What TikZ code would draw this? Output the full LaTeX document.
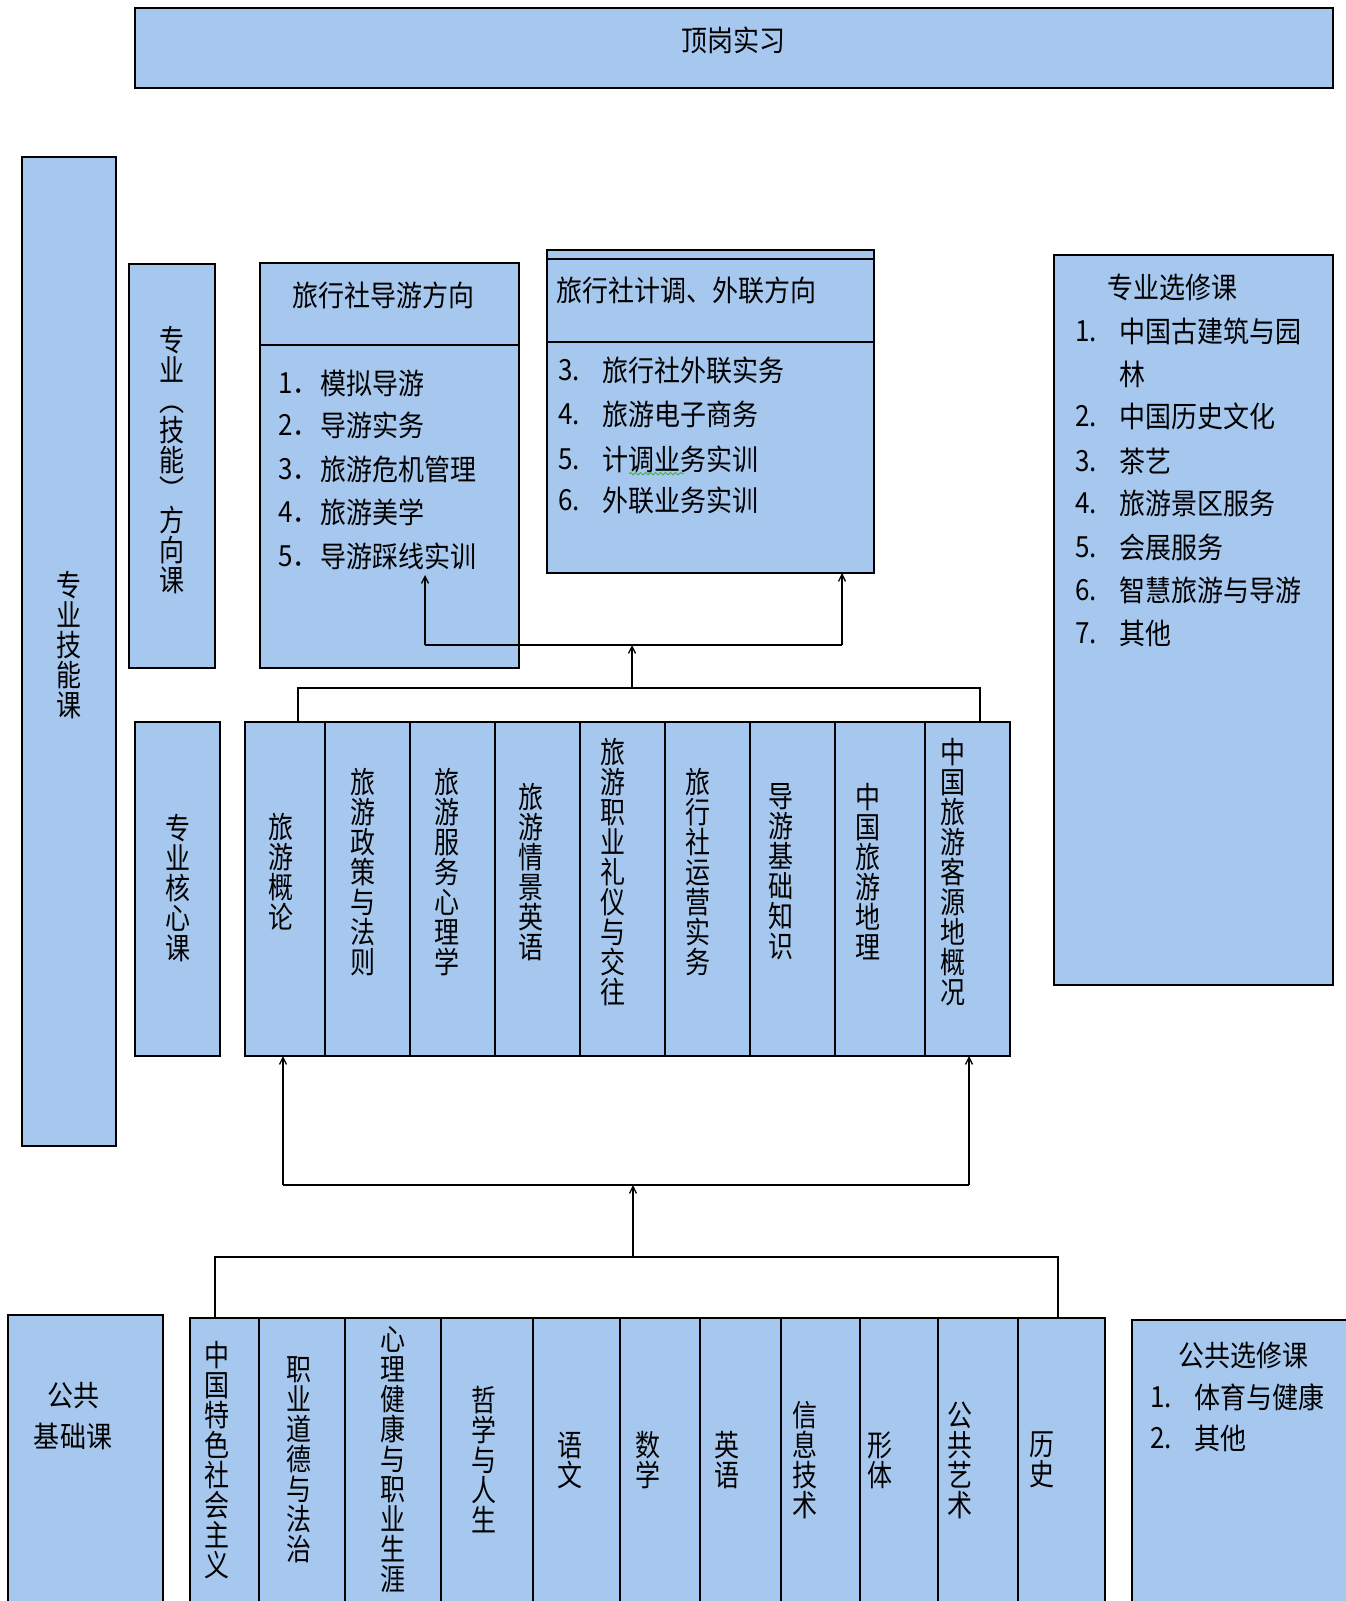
\documentclass[tikz,border=0pt]{standalone}
\usepackage{fontspec}
\newfontfamily\cjk{Noto Sans CJK SC}
\usetikzlibrary{arrows.meta,decorations.pathmorphing}
\definecolor{boxblue}{RGB}{167,200,238}
\definecolor{squig}{RGB}{60,170,60}
\newcommand\mybox[6][]{\node[box,#1,minimum width={#4-#2},minimum height={#5-#3}] (#6) at (#2,#3) {};}
\newcommand\hs[1]{\scalebox{1}[1.12]{#1}}
\newcommand\vs[1]{\scalebox{1}[1.2]{\parbox{40pt}{\centering\cjk\fontsize{25}{25}\selectfont\lineskiplimit=-20pt #1\par}}}
\begin{document}
\begin{tikzpicture}[x=1pt,y=-1pt,
  box/.style={draw=black,line width=1.4pt,fill=boxblue,inner sep=0pt,outer sep=0pt,anchor=north west},
  vt/.style={font=\cjk\fontsize{25}{25}\selectfont,inner sep=0pt},
  ht/.style={font=\cjk\fontsize{26}{32}\selectfont,inner sep=0pt},
  hl/.style={ht,anchor=west},
  conn/.style={line width=1.3pt,draw=black},
  arr/.style={conn,-{Straight Barb[length=7pt,width=7pt]}}]
\useasboundingbox (0,0) rectangle (1346,1601);
\fill[white] (0,0) rectangle (1346,1601);

% top
\mybox{135}{8}{1333}{88}{top}
\node[ht] (ttop) at (733,40) {\hs{顶岗实习}};

% left tall
\mybox{22}{157}{116}{1146}{skill}
\node[vt] (tskill) at (69,645) {\vs{专\\业\\技\\能\\课}};

% direction label
\mybox{129}{264}{215}{668}{dirlab}
\node[vt] (tdirlab) at (172,460) {\vs{专\\业\\︵\\技\\能\\︶\\方\\向\\课}};

% direction 1
\mybox{260}{263}{519}{668}{dirA}
\draw[conn,line width=1.4pt] (dirA.west |- 0,345) coordinate (dAl) -- (dirA.east |- dAl);
\node[ht] (tdirA) at (383,295) {\hs{旅行社导游方向}};
\foreach \n/\t/\y in {1/模拟导游/383,2/导游实务/425,3/旅游危机管理/469,4/旅游美学/512,5/导游踩线实训/556}{
  \node[hl] (nA\n) at (278,\y) {\hs{\n．}};
  \node[hl] (iA\n) at (320,\y) {\hs{\t}};
}

% direction 2
\mybox{547}{250}{874}{573}{dirB}
\draw[conn,line width=1.4pt] (dirB.west |- 0,259) coordinate (dBa) -- (dirB.east |- dBa);
\draw[conn,line width=1.4pt] (dirB.west |- 0,342) coordinate (dBb) -- (dirB.east |- dBb);
\node[hl] (tdirB) at (556,290) {\hs{旅行社计调、外联方向}};
\foreach \n/\t/\y in {3/旅行社外联实务/370,4/旅游电子商务/414,5/计调业务实训/459,6/外联业务实训/500}{
  \node[hl] (nB\n) at (558,\y) {\hs{\n.}};
  \node[hl] (iB\n) at (602,\y) {\hs{\t}};
}
\draw[squig,line width=0.8pt,decorate,decoration={snake,amplitude=1.2pt,segment length=5pt}]
  (iB5.south west) ++(27,1) coordinate (sq1) -- ++(55,0);

% elective (major)
\mybox{1054}{255}{1333}{985}{elecM}
\node[ht] (telecM) at (1172,287) {\hs{专业选修课}};
\foreach \n/\t/\y in {1/中国古建筑与园/331,2/中国历史文化/416,3/茶艺/461,4/旅游景区服务/503,5/会展服务/547,6/智慧旅游与导游/590,7/其他/633}{
  \node[hl] (nM\n) at (1075,\y) {\hs{\n.}};
  \node[hl] (iM\n) at (1119,\y) {\hs{\t}};
}
\node[hl] (iM1b) at (1119,374) {\hs{林}};

% core label
\mybox{135}{722}{220}{1056}{corelab}
\node[vt] (tcorelab) at (178,888) {\vs{专\\业\\核\\心\\课}};

% core courses
\foreach \i/\a/\b/\tx/\t in {
 1/245/325/281/旅\\游\\概\\论,
 2/325/410/363/旅\\游\\政\\策\\与\\法\\则,
 3/410/495/447/旅\\游\\服\\务\\心\\理\\学,
 4/495/580/531/旅\\游\\情\\景\\英\\语,
 5/580/665/613/旅\\游\\职\\业\\礼\\仪\\与\\交\\往,
 6/665/750/698/旅\\行\\社\\运\\营\\实\\务,
 7/750/835/781/导\\游\\基\\础\\知\\识,
 8/835/925/868/中\\国\\旅\\游\\地\\理,
 9/925/1010/953/中\\国\\旅\\游\\客\\源\\地\\概\\况}{
  \mybox{\a}{722}{\b}{1056}{c\i}
  \node[vt] (tc\i) at (\tx,872) {\vs{\t}};
}

% public label
\mybox{8}{1315}{163}{1610}{publab}
\node[ht] (tpub1) at (73,1396) {\hs{公共}};
\node[ht] (tpub2) at (73,1436) {\hs{基础课}};

% public courses
\foreach \i/\a/\b/\tx/\t in {
 1/190/259/217/中\\国\\特\\色\\社\\会\\主\\义,
 2/259/345/299/职\\业\\道\\德\\与\\法\\治,
 3/345/441/393/心\\理\\健\\康\\与\\职\\业\\生\\涯,
 4/441/533/484/哲\\学\\与\\人\\生,
 5/533/620/570/语\\文,
 6/620/700/648/数\\学,
 7/700/781/727/英\\语,
 8/781/860/805/信\\息\\技\\术,
 9/860/938/880/形\\体,
 10/938/1018/960/公\\共\\艺\\术,
 11/1018/1105/1042/历\\史}{
  \mybox{\a}{1318}{\b}{1610}{p\i}
  \node[vt] (tp\i) at (\tx,1460) {\vs{\t}};
}

% public elective
\mybox{1132}{1320}{1352}{1610}{elecP}
\node[ht] (telecP) at (1243,1355) {\hs{公共选修课}};
\node[hl] (nP1) at (1150,1397) {\hs{1.}};
\node[hl] (iP1) at (1194,1397) {\hs{体育与健康}};
\node[hl] (nP2) at (1150,1438) {\hs{2.}};
\node[hl] (iP2) at (1194,1438) {\hs{其他}};

% connectors: public -> core
\coordinate (pjL) at (215,1257);
\coordinate (pjR) at (1058,1257);
\coordinate (pjM) at (633,1257);
\draw[conn] (p1.north -| pjL) -- (pjL) -- (pjR) -- (p11.north -| pjR);
\coordinate (cjL) at (283,1185);
\coordinate (cjR) at (969,1185);
\coordinate (cjM) at (633,1185);
\draw[arr] (pjM) -- (cjM);
\draw[conn] (cjL) -- (cjR);
\draw[arr] (cjL) -- (c1.south -| cjL);
\draw[arr] (cjR) -- (c9.south -| cjR);

% connectors: core -> directions
\coordinate (kjL) at (298,688);
\coordinate (kjR) at (980,688);
\coordinate (kjM) at (632,688);
\draw[conn] (c1.north -| kjL) -- (kjL) -- (kjR) -- (c9.north -| kjR);
\coordinate (djL) at (425,645);
\coordinate (djR) at (842,645);
\coordinate (djM) at (632,645);
\coordinate (aL) at (425,575);
\draw[arr] (kjM) -- (djM);
\draw[conn] (djL) -- (djR);
\draw[arr] (djL) -- (aL);
\draw[arr] (djR) -- (dirB.south -| djR);
\end{tikzpicture}
\end{document}
